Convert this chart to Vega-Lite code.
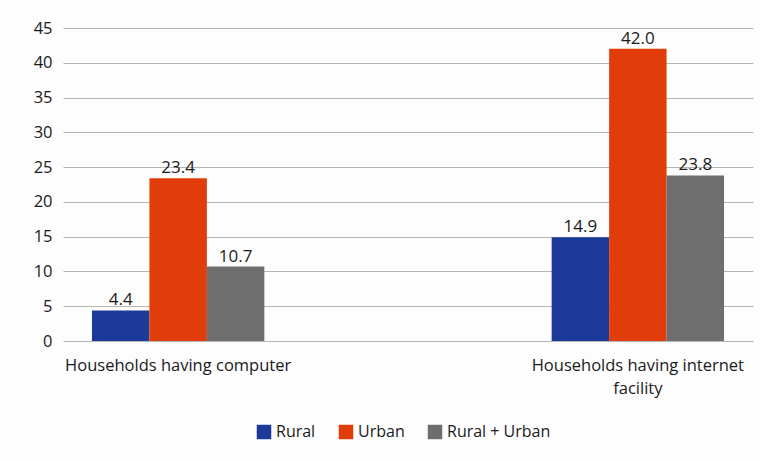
{
  "$schema": "https://vega.github.io/schema/vega-lite/v6.json",
  "width": 690,
  "height": 313,
  "autosize": {"type": "none"},
  "padding": {"left": 63, "top": 28, "right": 7, "bottom": 120},
  "background": "#fdfdfd",
  "data": {
    "values": [
      {"category": "Households having computer", "area": "Rural", "value": 4.4},
      {"category": "Households having computer", "area": "Urban", "value": 23.4},
      {"category": "Households having computer", "area": "Rural + Urban", "value": 10.7},
      {"category": "Households having internet facility", "area": "Rural", "value": 14.9},
      {"category": "Households having internet facility", "area": "Urban", "value": 42.0},
      {"category": "Households having internet facility", "area": "Rural + Urban", "value": 23.8}
    ]
  },
  "encoding": {
    "x": {
      "field": "category",
      "type": "nominal",
      "sort": null,
      "scale": {"paddingInner": 0.625, "paddingOuter": 0.063},
      "axis": {
        "title": null,
        "labelAngle": 0,
        "domain": false,
        "ticks": false,
        "labelPadding": 16,
        "labelFontSize": 16.5,
        "labelColor": "#1a1a1a",
        "labelFont": "Open Sans",
        "labelLineHeight": 23,
        "labelLimit": 320,
        "labelExpr": "datum.value == 'Households having internet facility' ? ['Households having internet', 'facility'] : datum.value"
      }
    },
    "xOffset": {
      "field": "area",
      "type": "nominal",
      "sort": ["Rural", "Urban", "Rural + Urban"],
      "scale": {"paddingInner": 0, "paddingOuter": 0}
    },
    "y": {
      "field": "value",
      "type": "quantitative",
      "scale": {"domain": [0, 45], "nice": false},
      "axis": {
        "title": null,
        "values": [0, 5, 10, 15, 20, 25, 30, 35, 40, 45],
        "domain": false,
        "ticks": false,
        "labelPadding": 11,
        "labelFontSize": 16.5,
        "labelColor": "#1a1a1a",
        "labelFont": "Open Sans",
        "gridColor": "#b5b5b5",
        "gridWidth": 1.2
      }
    }
  },
  "layer": [
    {
      "mark": {"type": "bar"},
      "encoding": {
        "color": {
          "field": "area",
          "type": "nominal",
          "sort": ["Rural", "Urban", "Rural + Urban"],
          "scale": {
            "domain": ["Rural", "Urban", "Rural + Urban"],
            "range": ["#1c3a9a", "#e03d0b", "#6e6e6e"]
          },
          "legend": {
            "title": null,
            "orient": "none",
            "direction": "horizontal",
            "legendX": 193,
            "legendY": 396,
            "symbolType": "square",
            "symbolSize": 210,
            "symbolStrokeWidth": 0,
            "labelFontSize": 16,
            "labelFont": "Open Sans",
            "labelColor": "#1a1a1a",
            "columnPadding": 22,
            "labelOffset": 4
          }
        }
      }
    },
    {
      "mark": {"type": "text", "dy": -10, "fontSize": 17, "font": "Open Sans", "color": "#1a1a1a"},
      "encoding": {
        "text": {"field": "value", "type": "quantitative", "format": ".1f"}
      }
    }
  ],
  "config": {"view": {"stroke": null}}
}
